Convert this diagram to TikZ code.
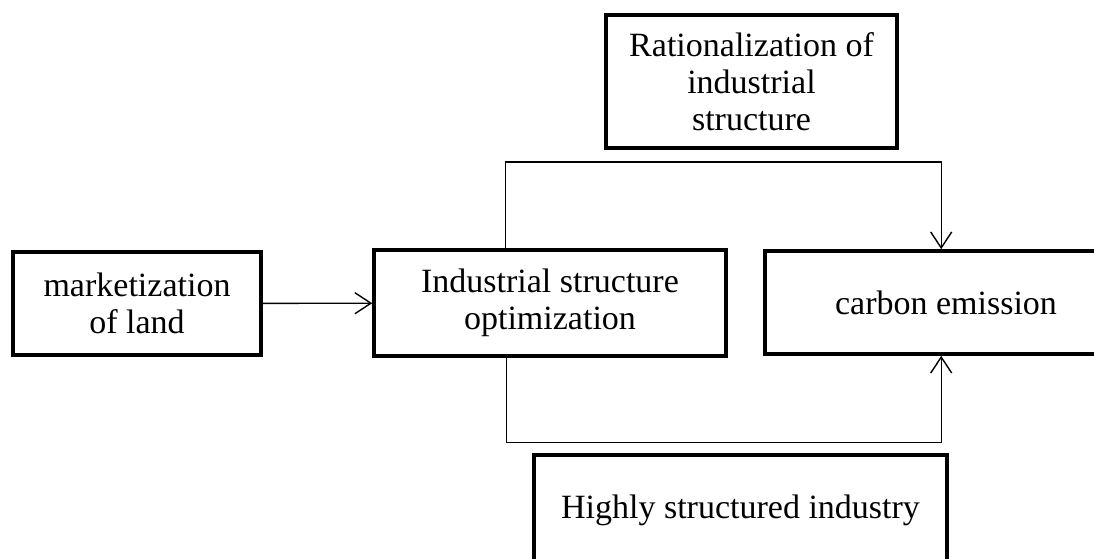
\documentclass[tikz,border=0pt]{standalone}
\usepackage{fontspec}
\setmainfont{Liberation Serif}
\usetikzlibrary{arrows.meta}

\tikzset{
	factor/.style={draw=black, line width=3.6pt, inner sep=0pt, align=center,
		font=\fontsize{34}{37}\selectfont},
	conn/.style={draw=black, line width=1.4pt, -{Straight Barb[length=16pt,width=21pt,line width=1.4pt]}}
}

\begin{document}
\begin{tikzpicture}[x=1pt,y=1pt]
		\useasboundingbox (0,0) rectangle (1094,559);
		\clip (0,0) rectangle (1094,559);
		\node[factor, minimum width=248pt, minimum height=103pt] (land) at (137,255.5) {marketization\\of land};
		\node[factor, minimum width=352pt, minimum height=106pt] (ind) at (550,256) {Industrial structure\\optimization};
		\node[factor, minimum width=362pt, minimum height=103pt] (carbon) at (946,256.5) {carbon emission};
		\node[factor, minimum width=291pt, minimum height=133pt] (rat) at (751.5,477.5) {Rationalization of\\industrial\\structure};
		\node[factor, minimum width=413pt, minimum height=110pt] (high) at (740.5,49) {Highly structured industry};
		\draw[conn] (land) -- (ind);
		\draw[conn] ([xshift=133pt]ind.north west) -- ++(0,86) -| ([xshift=178pt]carbon.north west);
		\draw[conn] ([xshift=134pt]ind.south west) -- ++(0,-85) -| ([xshift=178pt]carbon.south west);
	\end{tikzpicture}
\end{document}
